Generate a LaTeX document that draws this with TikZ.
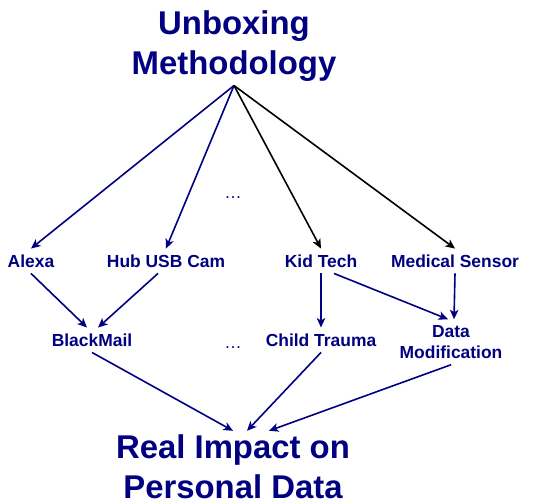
\documentclass[tikz,border=0pt]{standalone}
\usepackage{fontspec}
\setmainfont{Liberation Sans}
\usetikzlibrary{arrows.meta}
\definecolor{navyblue}{RGB}{0,0,128}

\begin{document}
\begin{tikzpicture}[x=1bp, y=-1bp,
          bigtitle/.style={text=navyblue, align=center, inner sep=4bp,
            font=\bfseries\fontsize{33}{40}\selectfont},
          item/.style={text=navyblue, inner sep=6bp, align=center,
            font=\bfseries\fontsize{17.5}{21}\selectfont},
          leaf/.style={item, text height=12.5bp, text depth=0bp},
          gap/.style={text=navyblue, inner sep=0pt, font=\fontsize{17.5}{21}\selectfont},
          link/.style={draw=navyblue, line width=1.6bp, -{Stealth[length=9.5bp, width=8.5bp, inset=2.5bp]}},
          blacklink/.style={link, draw=black}]

        \useasboundingbox (0,0) rectangle (540,504);

        \node[bigtitle] (method) at (234,46) {Unboxing\\Methodology};

        \node[leaf] (alexa)     at (31,261)  {Alexa};
        \node[leaf] (hubcam)    at (166,261) {Hub USB Cam};
        \node[gap]  (dotsup)    at (233,198) {…};
        \node[leaf] (kidtech)   at (321,261) {Kid Tech};
        \node[leaf] (medsensor) at (455,261) {Medical Sensor};

        \draw[link]      (method.south) -- (alexa.north);
        \draw[link]      (method.south) -- (hubcam.north);
        \draw[blacklink] (method.south) -- (kidtech.north);
        \draw[blacklink] (method.south) -- (medsensor.north);

        \node[leaf] (blackmail) at (92,340)  {BlackMail};
        \node[gap]  (dotsdown)  at (233,348) {…};
        \node[leaf] (trauma)    at (321,340) {Child Trauma};
        \node[item] (datamod)   at (451,342) {Data\\Modification};

        \draw[link] (alexa.south)                -- ([xshift=-5bp]blackmail.north);
        \draw[link] ([xshift=-8bp]hubcam.south)  -- ([xshift=6bp]blackmail.north);
        \draw[link] (kidtech.south)              -- (trauma.north);
        \draw[link] ([xshift=13bp]kidtech.south) -- ([xshift=-3bp]datamod.north);
        \draw[link] (medsensor.south)            -- ([xshift=3bp]datamod.north);

        \node[bigtitle] (impact) at (233,467) {Real Impact on\\Personal Data};

        \draw[link] (blackmail.south) -- (impact.north);
        \draw[link] (trauma.south)    -- ([xshift=14bp]impact.north);
        \draw[link] (datamod.south)   -- ([xshift=36bp]impact.north);

      \end{tikzpicture}
\end{document}
